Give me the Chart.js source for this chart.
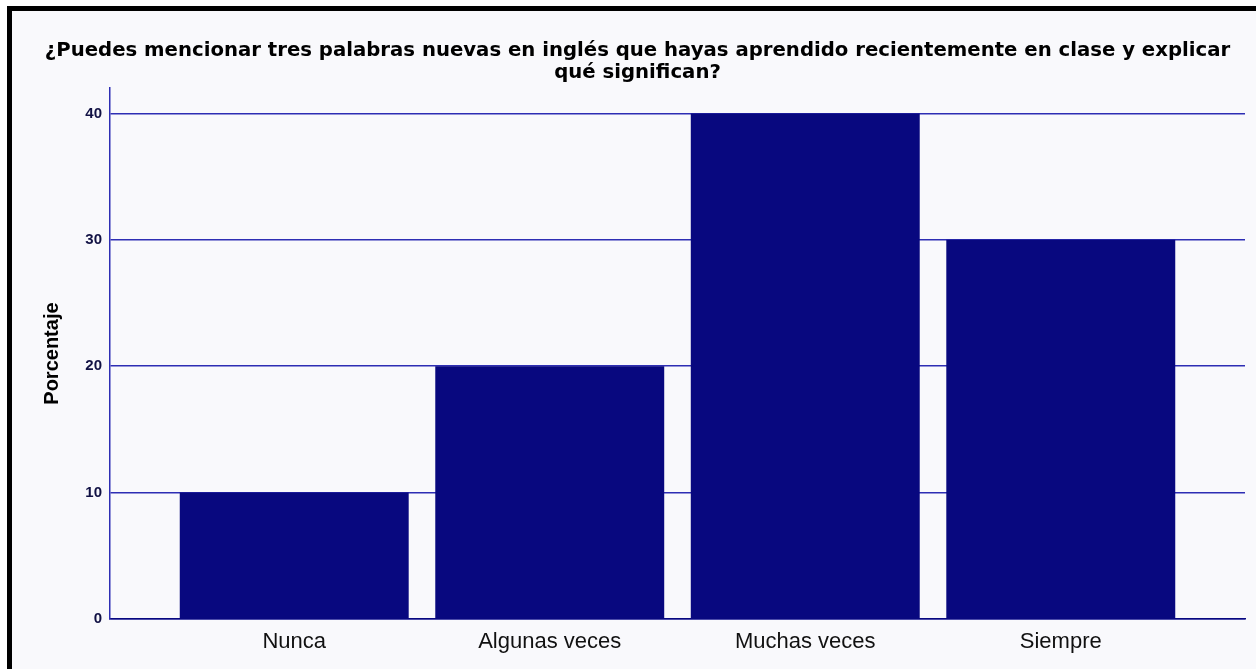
<!DOCTYPE html>
<html>
<head>
<meta charset="utf-8">
<script src="https://cdn.jsdelivr.net/npm/chart.js@4"></script>
<style>
  html, body { margin: 0; padding: 0; background: #ffffff; }
  #frame {
    position: absolute; left: 7px; top: 6px; right: 0; bottom: 0;
    border-top: 5px solid #000; border-left: 5px solid #000;
    background: #f9f9fc;
  }
  #wrap { position: absolute; left: 0; top: 0; width: 1256px; height: 669px; }
</style>
</head>
<body>
<div id="frame"></div>
<div id="wrap"><canvas id="chart"></canvas></div>
<script>
// ---- Data ----
const categories = ['Nunca', 'Algunas veces', 'Muchas veces', 'Siempre'];
const percentages = [10, 20, 40, 30];
const yTicks = [0, 10, 20, 30, 40];

const titleLines = [
    '¿Puedes mencionar tres palabras nuevas en inglés que hayas aprendido recientemente en clase y explicar',
    'qué significan?'
];

const navy = '#08087f';
const lineColor = '#2e2eb4';

const ctx = document.getElementById('chart').getContext('2d');
new Chart(ctx, {
    type: 'bar',
    data: {
        datasets: [{
            data: categories.map((c, i) => ({ x: i, y: percentages[i] })),
            backgroundColor: navy,
            borderWidth: 0,
            categoryPercentage: 1,
            barPercentage: 0.896
        }]
    },
    options: {
        responsive: true,
        maintainAspectRatio: false,
        animation: false,
        // left padding shifts the title centre to match the original
        layout: { padding: { left: 30, right: 11, top: 0, bottom: 10 } },
        plugins: {
            legend: { display: false },
            tooltip: { enabled: false },
            title: {
                display: true,
                text: titleLines,
                color: '#000',
                font: { family: 'DejaVu Sans, sans-serif', size: 19.7, weight: 'bold', lineHeight: 1.12 },
                padding: { top: 40, bottom: 4 }
            }
        },
        scales: {
            x: {
                type: 'linear',
                offset: false,
                min: -0.721,
                max: 3.721,
                afterBuildTicks: (scale) => {
                    scale.ticks = categories.map((c, i) => ({ value: i }));
                },
                afterFit: (scale) => { scale.height = 40; },
                grid: { display: false, drawTicks: false },
                border: { display: true, color: navy, width: 1.5 },
                ticks: {
                    autoSkip: false,
                    maxRotation: 0,
                    padding: 10,
                    color: '#111',
                    font: { family: 'Liberation Sans, Arial, sans-serif', size: 22 },
                    callback: (v) => categories[v]
                }
            },
            y: {
                min: 0,
                max: 42,
                afterBuildTicks: (scale) => {
                    scale.ticks = yTicks.map(v => ({ value: v }));
                },
                afterFit: (scale) => { scale.width = 80; },
                grid: { color: lineColor, lineWidth: 1.5, drawTicks: false },
                border: { display: true, color: lineColor, width: 1.5 },
                ticks: {
                    padding: 8,
                    color: '#111144',
                    font: { family: 'Liberation Sans, Arial, sans-serif', size: 15, weight: 'bold' }
                },
                title: {
                    display: true,
                    text: 'Porcentaje',
                    color: '#000',
                    padding: { top: 10, bottom: 0 },
                    font: { family: 'Liberation Sans, Arial, sans-serif', size: 20, weight: 'bold' }
                }
            }
        }
    }
});
</script>
</body>
</html>
